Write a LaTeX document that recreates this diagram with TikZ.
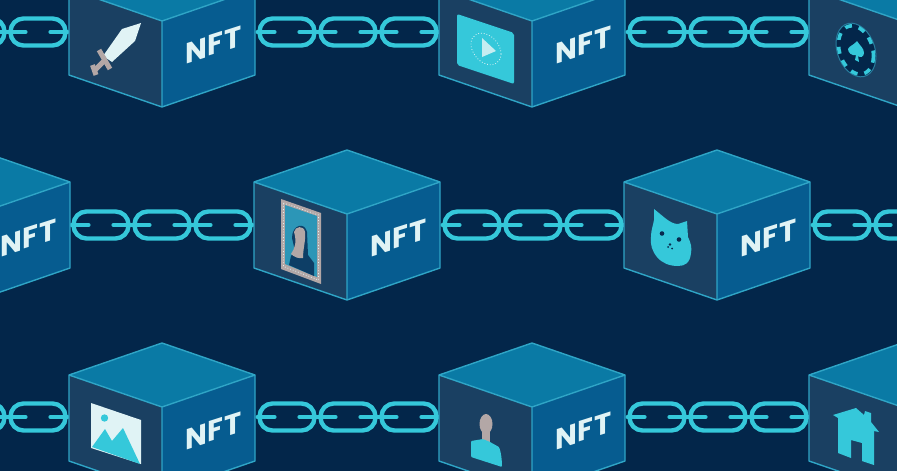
\documentclass[tikz,border=0pt]{standalone}
\usepackage{fontspec}
\setmainfont{Liberation Sans}
\newfontfamily\nftfont[LetterSpace=3]{Poppins}
\definecolor{bgc}{HTML}{03264A}
\definecolor{topc}{HTML}{0A7AA5}
\definecolor{leftc}{HTML}{1A4062}
\definecolor{rightc}{HTML}{065C90}
\definecolor{edgec}{HTML}{2FA5C6}
\definecolor{chainc}{HTML}{35C8DA}
\definecolor{whitec}{HTML}{E0F3F5}
\definecolor{grayc}{HTML}{B3A7A6}
\definecolor{navyc}{HTML}{0D3E66}
\tikzset{
  edgeline/.style={draw=edgec,line width=1.4pt,line join=round},
  pill/.style={draw=chainc,line width=4.4pt,minimum width=55pt,minimum height=27pt,inner sep=0pt,outer sep=0pt,rounded corners=13pt},
  bar/.style={draw=chainc,line width=4.2pt,line cap=round},
  nfttext/.style={text=whitec,font=\nftfont\bfseries\fontsize{29}{29}\selectfont,inner sep=0pt,transform shape},
}
% #1 name, #2 centre x, #3 apex y
\newcommand{\nftcube}[3]{%
  \begin{scope}[shift={(#2,#3)}]
    \coordinate (#1t) at (0,0);
    \coordinate (#1l) at (-93,32);
    \coordinate (#1c) at (0,64);
    \coordinate (#1r) at (93,32);
    \coordinate (#1lb) at (-93,118);
    \coordinate (#1b) at (0,150);
    \coordinate (#1rb) at (93,118);
    \fill[topc] (#1t) -- (#1r) -- (#1c) -- (#1l) -- cycle;
    \fill[leftc] (#1l) -- (#1c) -- (#1b) -- (#1lb) -- cycle;
    \fill[rightc] (#1c) -- (#1r) -- (#1rb) -- (#1b) -- cycle;
    \path[edgeline] (#1l) -- (#1t) -- (#1r) -- (#1rb) -- (#1b) -- (#1lb) -- cycle;
    \path[edgeline] (#1l) -- (#1c) -- (#1r) (#1c) -- (#1b);
  \end{scope}}
% #1 name, #2 centre x of the cube, #3 apex y
\newcommand{\nftlabel}[3]{%
  \begin{scope}[shift={(#2,#3)}]
    \node[nfttext,cm={1,0.32,0,1,(51.5,88)}] (#1n) at (0,0) {NFT};
  \end{scope}}
% #1 name, #2 right edge of the left cube, #3 chain y
\newcommand{\chainrun}[3]{%
  \node[pill] (#1a) at (#2+32,#3) {};
  \node[pill] (#1b) at (#2+93,#3) {};
  \node[pill] (#1c) at (#2+154,#3) {};
  \draw[bar] ([xshift=-2pt]#1a.west) -- ([xshift=15pt]#1a.west);
  \draw[bar] ([xshift=-15pt]#1a.east) -- ([xshift=21pt]#1a.east);
  \draw[bar] ([xshift=-15pt]#1b.east) -- ([xshift=21pt]#1b.east);
  \draw[bar] ([xshift=-15pt]#1c.east) -- ([xshift=2pt]#1c.east);}
\begin{document}
\begin{tikzpicture}[x=1pt,y=-1pt]
\useasboundingbox (0,0) rectangle (897,471);
\clip (0,0) rectangle (897,471);
\fill[bgc] (0,0) rectangle (897,471);
% chains
\chainrun{ra}{-116}{32}
\chainrun{rb}{255}{32}
\chainrun{rc}{625}{32}
\chainrun{sa}{69}{225}
\chainrun{sb}{440}{225}
\chainrun{sc}{810}{225}
\chainrun{ta}{-116}{417}
\chainrun{tb}{255}{417}
\chainrun{tc}{625}{417}
% cubes
\nftcube{a}{162}{-43}\nftlabel{a}{162}{-43}
\nftcube{b}{532}{-43}\nftlabel{b}{532}{-43}
\nftcube{c}{902}{-43}
\nftcube{d}{-23}{150}\nftlabel{d}{-23}{150}
\nftcube{e}{347}{150}\nftlabel{e}{347}{150}
\nftcube{f}{717}{150}\nftlabel{f}{717}{150}
\nftcube{g}{162}{343}\nftlabel{g}{162}{343}
\nftcube{h}{532}{343}\nftlabel{h}{532}{343}
\nftcube{i}{902}{343}
% sword
\fill[whitec] (141,23) -- (122,29) -- (103,56) -- (112,62) -- (135,41) -- cycle;
\draw[grayc,line width=5pt] (99,50) -- (110,69);
\draw[grayc,line width=5pt] (105,60) -- (95,70);
\draw[grayc,line width=5pt] (92.5,65) -- (96,75);
% video
\fill[chainc,rounded corners=2pt] (457,14) -- (514,33) -- (514,84) -- (457,65) -- cycle;
\draw[whitec,line width=0.8pt,dotted,cm={1,-0.33,0,1,(486,49)}] (0,0) circle[radius=15];
\fill[whitec!85!chainc] (482,38) -- (496,51) -- (482,57) -- cycle;
% poker chip
\begin{scope}[cm={1,-0.33,0,1,(856,50)}]
  \fill[bgc] (0,0) ellipse[x radius=20,y radius=26];
  \draw[edgec!60!leftc,line width=1pt] (0,0) ellipse[x radius=20,y radius=26];
  \draw[chainc,line width=3.6pt,dash pattern=on 7pt off 7pt] (0,0) ellipse[x radius=17.5,y radius=23.5];
\end{scope}
\fill[chainc] (857,41) .. controls (860,46) and (864,48) .. (864,53) .. controls (864,57) and (860,58) .. (858,56) -- (859,62) -- (855,60) -- (856,55) .. controls (852,56) and (848,53) .. (848,49) .. controls (849,46) and (854,45) .. (857,41) -- cycle;
% portrait
\fill[grayc] (281,199) -- (321,213) -- (321,284) -- (281,269) -- cycle;
\draw[whitec,line width=0.8pt,dotted] (283.5,203) -- (318.5,215) -- (318.5,280) -- (283.5,266.5) -- cycle;
\fill[edgec!85!leftc] (285,205) -- (317,216) -- (317,277) -- (285,264) -- cycle;
\fill[navyc] (289,265) -- (291,256) -- (295,251) -- (292,238) .. controls (292,224) and (305,222) .. (307,232) -- (308,255) -- (314,263) -- (314,276) -- cycle;
\fill[grayc] (294,232) .. controls (295,226) and (304,225) .. (305,232) .. controls (306,240) and (303,248) .. (303,258) .. controls (299,259) and (294,257) .. (291,254) .. controls (295,248) and (297,242) .. (294,232) -- cycle;
% cat
\fill[chainc] (654,209) -- (665,218) .. controls (670,222) and (674,224) .. (678,224) -- (687,221) -- (688,237) .. controls (691,243) and (692,248) .. (691,253) .. controls (690,263) and (685,266) .. (678,266) .. controls (669,266) and (662,263) .. (657,257) .. controls (652,251) and (650,244) .. (651,237) .. controls (651,230) and (653,226) .. (654,220) -- cycle;
\fill[bgc!80!leftc] (662,233.5) circle[radius=2.3] (679,239.5) circle[radius=2.3] (670,244.5) circle[radius=1.3] (668,247) circle[radius=1] (672,248.5) circle[radius=1];
% landscape
\fill[whitec] (91,403) -- (141,420) -- (141,464) -- (91,448) -- cycle;
\fill[chainc] (104.5,418) circle[radius=3.7];
\fill[chainc] (92,447) -- (105,429) -- (112,441) -- (123,428) -- (140,464) -- cycle;
% person
\fill[grayc] (486,424) ellipse[x radius=6.5,y radius=10];
\fill[grayc] (482,430) -- (490,430) -- (490,444) -- (482,444) -- cycle;
\fill[chainc,rounded corners=1pt] (471,441) -- (483,439) -- (490,442) -- (499,447) .. controls (501,452) and (502,460) .. (502,467) -- (471,457) -- cycle;
% house
\fill[chainc] (833,415) -- (856,408) -- (864,415) -- (865,411) -- (871,413) -- (871,422) -- (879,432) -- (874,431) -- (874,465) -- (862,461) -- (862,443) -- (851,440) -- (851,458) -- (838,453) -- (838,418) -- cycle;
\end{tikzpicture}
\end{document}
